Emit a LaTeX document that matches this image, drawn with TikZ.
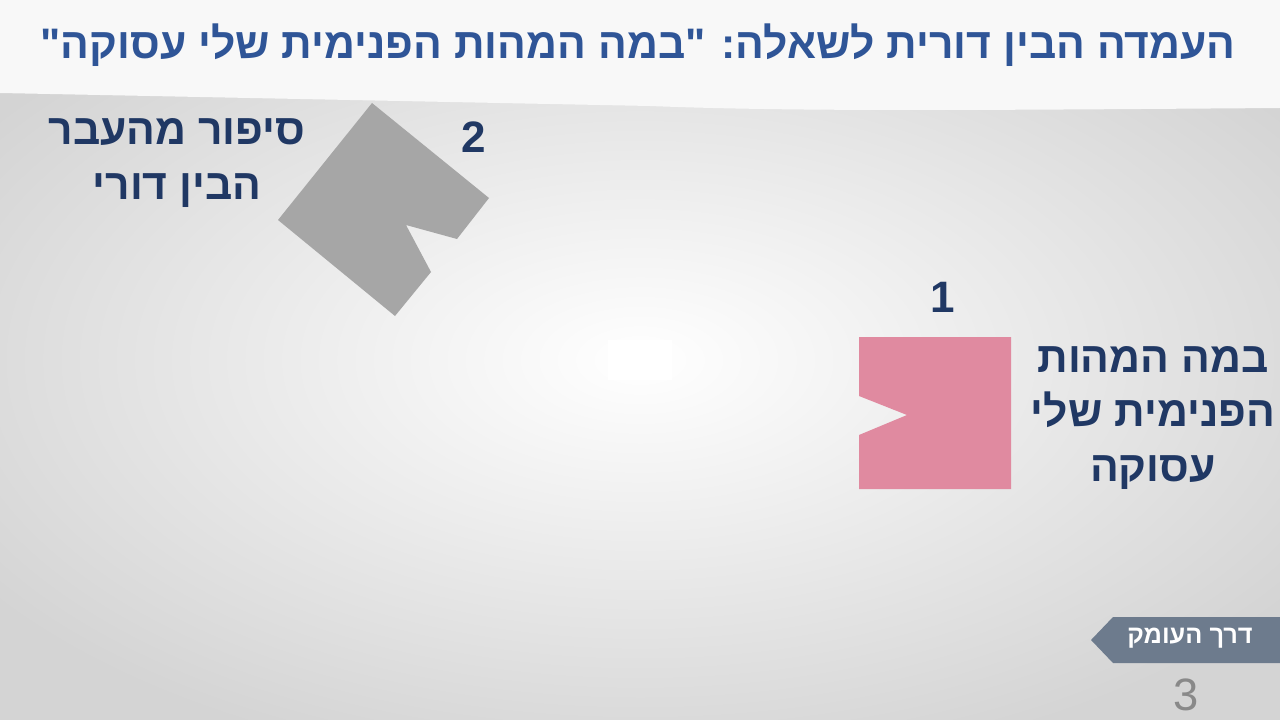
\documentclass[tikz,border=0pt]{standalone}
\usepackage{fontspec}
\TeXXeTstate=1
\newfontfamily\heb[Script=Hebrew]{Liberation Sans}
\setmainfont{Liberation Sans}
\definecolor{navy}{HTML}{203864}
\definecolor{titleblue}{HTML}{2F5597}
\definecolor{shapegray}{HTML}{A6A6A6}
\definecolor{pinkc}{HTML}{E08AA0}
\definecolor{tagc}{HTML}{6D7B8D}
\definecolor{pagec}{HTML}{898989}
\definecolor{bgedge}{HTML}{D4D4D4}
\definecolor{headc}{HTML}{F8F8F8}
\tikzset{
  lbl/.style={text=navy, font=\heb\bfseries\fontsize{32}{41}\selectfont, align=center, inner sep=0pt},
  num/.style={text=navy, font=\bfseries\fontsize{33}{35}\selectfont, inner sep=0pt},
}
\begin{document}
\begin{tikzpicture}[x=0.75pt,y=-0.75pt]
\useasboundingbox (0,0) rectangle (1280,720);
% background
\shade[inner color=white, outer color=bgedge] (-150,-60) rectangle (1430,780);
\fill[white] (608,340) rectangle (672,380);
% header
\fill[headc] (0,0) -- (1280,0) -- (1280,108) .. controls (1000,110) and (800,112) .. (650,106) -- (0,93) -- cycle;
\node[text=titleblue, font=\heb\bfseries\fontsize{32}{36}\selectfont, inner sep=0pt] (title) at (638,45)
  {\beginR העמדה הבין דורית לשאלה: "במה המהות הפנימית שלי עסוקה"\endR};
% shape 2
\fill[shapegray] (372,103) -- (489,198) -- (457,239) -- (406,225) -- (431,272) -- (395,316) -- (278,220) -- cycle;
\node[num] (n2) at (474,137) {2};
\node[lbl] (l2) at (177,163) {\beginR סיפור מהעבר\endR\\\beginR הבין דורי\endR};
% shape 1
\fill[pinkc] (859,337) -- (1011,337) -- (1011,489) -- (859,489) -- (859,435) -- (907,415) -- (859,396) -- cycle;
\node[num] (n1) at (943,297) {1};
\node[lbl] (l1) at (1153,418) {\beginR במה המהות\endR\\\beginR הפנימית שלי\endR\\\beginR עסוקה\endR};
% footer tag
\fill[tagc] (1091,640) -- (1113,617) -- (1280,617) -- (1280,663) -- (1113,663) -- cycle;
\node[text=white, font=\heb\bfseries\fontsize{19}{21}\selectfont, inner sep=0pt] (tag) at (1190,638) {\beginR דרך העומק\endR};
\node[text=pagec, font=\fontsize{34}{36}\selectfont, inner sep=0pt] (page) at (1186,695) {3};
\end{tikzpicture}
\end{document}
